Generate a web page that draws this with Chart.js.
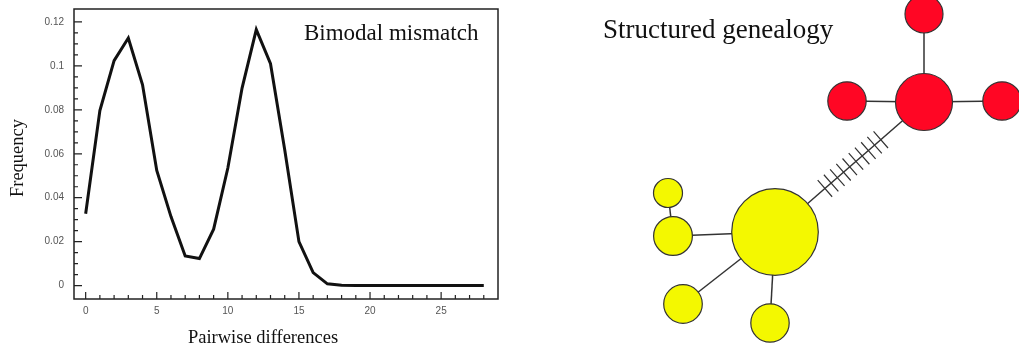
<!DOCTYPE html>
<html>
<head>
<meta charset="utf-8">
<script src="https://cdn.jsdelivr.net/npm/chart.js@4.4.0/dist/chart.umd.min.js"></script>
<style>
  html, body { margin: 0; padding: 0; background: #fff; }
  #wrap { position: relative; width: 1019px; height: 349px; overflow: hidden; }
  #mismatch { position: absolute; left: 0; top: 0; }
  #network { position: absolute; left: 560px; top: 0; }
</style>
</head>
<body>
<div id="wrap">
  <canvas id="mismatch" width="540" height="349"></canvas>
  <canvas id="network" width="459" height="349"></canvas>
</div>
<script>
// mismatch distribution
const differences = [0, 1, 2, 3, 4, 5, 6, 7, 8, 9, 10, 11, 12, 13, 14, 15, 16, 17, 18, 19, 20, 21, 22, 23, 24, 25, 26, 27, 28];
const frequency = [0.0327, 0.0797, 0.1024, 0.1127, 0.0914, 0.0524, 0.0314, 0.0135, 0.0123, 0.0257,
  0.0535, 0.0899, 0.1165, 0.101, 0.0618, 0.020, 0.0059, 0.0008, 0.0002, 0, 0, 0, 0, 0, 0, 0, 0, 0, 0];
const xTickLabels = [0, 5, 10, 15, 20, 25];
const yTickLabels = [0, 0.02, 0.04, 0.06, 0.08, 0.1, 0.12];

// haplotype network
const nodeNames = ['R0', 'R1', 'R2', 'R3', 'Y0', 'Y1', 'Y2', 'Y3', 'Y4'];
const nodeX = [924, 924, 847, 1002, 775, 668, 673, 683, 770];
const nodeY = [102, 14, 101, 101, 232, 193, 236, 304, 323];
const nodeSize = [28.5, 19, 19.2, 19.2, 43.3, 14.5, 19.4, 19.3, 19.2];
const nodeGroup = ['red', 'red', 'red', 'red', 'yellow', 'yellow', 'yellow', 'yellow', 'yellow'];
const edges = [[0, 1], [0, 2], [0, 3], [4, 0], [4, 6], [6, 5], [4, 7], [4, 8]];
const mutationEdge = [4, 0];
const mutationCount = 10;

const groupColors = { red: '#ff0624', yellow: '#f4f800' };
const serif = '"Liberation Serif", "Times New Roman", serif';
const sans = '"Liberation Sans", Arial, sans-serif';

const mismatchDecor = {
  id: 'mismatchDecor',
  afterDatasetsDraw(chart) {
    const { ctx, chartArea: a, scales: { x, y } } = chart;
    ctx.save();
    ctx.strokeStyle = '#222';
    ctx.lineWidth = 1.5;
    ctx.strokeRect(a.left, a.top, a.right - a.left, a.bottom - a.top);
    ctx.lineWidth = 1.2;
    ctx.beginPath();
    for (let v = 0; v <= 28; v++) {
      const px = x.getPixelForValue(v);
      const len = v % 5 === 0 ? 7 : 4;
      ctx.moveTo(px, a.bottom);
      ctx.lineTo(px, a.bottom - len);
    }
    for (let i = 0; i <= 24; i++) {
      const v = i * 0.005;
      const py = y.getPixelForValue(v);
      const len = i % 4 === 0 ? 8 : 4;
      ctx.moveTo(a.left, py);
      ctx.lineTo(a.left + len, py);
    }
    ctx.stroke();

    ctx.fillStyle = '#111';
    ctx.font = '23px ' + serif;
    ctx.textBaseline = 'alphabetic';
    ctx.textAlign = 'left';
    ctx.fillText('Bimodal mismatch', 304, 40);

    ctx.font = '18.5px ' + serif;
    ctx.textAlign = 'center';
    ctx.fillText('Pairwise differences', 263, 343);
    ctx.translate(23, 158);
    ctx.rotate(-Math.PI / 2);
    ctx.fillText('Frequency', 0, 0);
    ctx.restore();
  }
};

// keep the frame where the reference has it: no label overhang padding
const noOverhang = s => { s.paddingTop = 0; s.paddingBottom = 0; s.paddingLeft = 0; s.paddingRight = 0; };

new Chart(document.getElementById('mismatch'), {
  type: 'line',
  data: {
    datasets: [{
      data: differences.map((d, i) => ({ x: d, y: frequency[i] })),
      borderColor: '#111',
      borderWidth: 3,
      pointRadius: 0,
      tension: 0,
      fill: false
    }]
  },
  options: {
    responsive: false,
    animation: false,
    events: [],
    layout: { autoPadding: false, padding: { top: 9, right: 42, left: 0, bottom: 0 } },
    plugins: { legend: { display: false }, tooltip: { enabled: false } },
    scales: {
      x: {
        type: 'linear',
        min: -0.82,
        max: 29,
        afterBuildTicks: s => { s.ticks = xTickLabels.map(v => ({ value: v })); },
        afterFit: s => { s.height = 50; noOverhang(s); },
        grid: { display: false, drawTicks: false },
        border: { display: false },
        ticks: { padding: 6, color: '#555', font: { family: sans, size: 10 }, maxRotation: 0 }
      },
      y: {
        min: -0.0061,
        max: 0.1259,
        afterBuildTicks: s => { s.ticks = yTickLabels.map(v => ({ value: v })); },
        afterFit: s => { s.width = 74; noOverhang(s); },
        grid: { display: false, drawTicks: false },
        border: { display: false },
        ticks: {
          padding: 10,
          color: '#555',
          font: { family: sans, size: 10 },
          callback: v => String(+v.toFixed(2))
        }
      }
    }
  },
  plugins: [mismatchDecor]
});

const networkDecor = {
  id: 'networkDecor',
  afterDatasetsDraw(chart) {
    const { ctx, scales: { x, y } } = chart;
    const [from, to] = mutationEdge;
    const x0 = x.getPixelForValue(nodeX[from]), y0 = y.getPixelForValue(nodeY[from]);
    const x1 = x.getPixelForValue(nodeX[to]), y1 = y.getPixelForValue(nodeY[to]);
    const dx = x1 - x0, dy = y1 - y0;
    const len = Math.hypot(dx, dy);
    const nx = -dy / len, ny = dx / len;
    const t0 = 0.335, t1 = 0.71, half = 11;
    ctx.save();
    ctx.strokeStyle = '#333';
    ctx.lineWidth = 1.2;
    ctx.beginPath();
    for (let i = 0; i < mutationCount; i++) {
      const t = t0 + (t1 - t0) * i / (mutationCount - 1);
      const cx = x0 + dx * t, cy = y0 + dy * t;
      ctx.moveTo(cx - nx * half, cy - ny * half);
      ctx.lineTo(cx + nx * half, cy + ny * half);
    }
    ctx.stroke();

    ctx.fillStyle = '#111';
    ctx.font = '27px ' + serif;
    ctx.textAlign = 'left';
    ctx.textBaseline = 'alphabetic';
    ctx.fillText('Structured genealogy', x.getPixelForValue(603), y.getPixelForValue(38));
    ctx.restore();
  }
};

const edgeSets = edges.map(([a, b]) => ({
  type: 'line',
  data: [{ x: nodeX[a], y: nodeY[a] }, { x: nodeX[b], y: nodeY[b] }],
  borderColor: '#333',
  borderWidth: 1.5,
  pointRadius: 0,
  order: 2
}));

new Chart(document.getElementById('network'), {
  type: 'bubble',
  data: {
    datasets: [{
      data: nodeNames.map((n, i) => ({ x: nodeX[i], y: nodeY[i], r: nodeSize[i] })),
      backgroundColor: nodeGroup.map(g => groupColors[g]),
      borderColor: '#333',
      borderWidth: 1.2,
      order: 1,
      clip: false
    }, ...edgeSets]
  },
  options: {
    responsive: false,
    animation: false,
    events: [],
    layout: { autoPadding: false, padding: 0 },
    plugins: { legend: { display: false }, tooltip: { enabled: false } },
    scales: {
      x: { type: 'linear', display: false, min: 560, max: 1019 },
      y: { type: 'linear', display: false, min: 0, max: 349, reverse: true }
    }
  },
  plugins: [networkDecor]
});
</script>
</body>
</html>
